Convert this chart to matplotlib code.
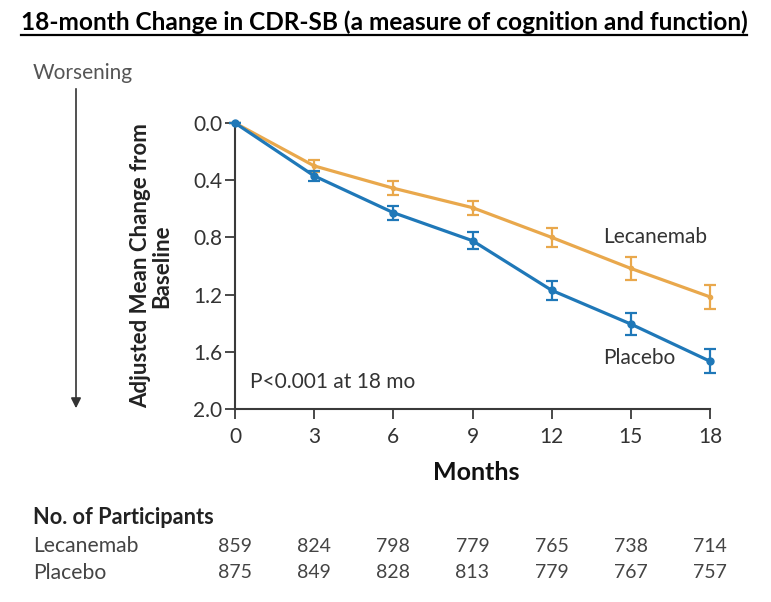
import matplotlib
matplotlib.use("Agg")
import matplotlib.pyplot as plt
from matplotlib.lines import Line2D
import matplotlib.transforms as mtransforms

plt.rcParams['font.family'] = ['Lato', 'DejaVu Sans']

months = [0, 3, 6, 9, 12, 15, 18]
lecanemab = [0.0, 0.30, 0.456, 0.592, 0.80, 1.017, 1.216]
lecanemab_err = [0.0, 0.044, 0.05, 0.05, 0.065, 0.08, 0.085]
placebo = [0.0, 0.37, 0.627, 0.823, 1.17, 1.406, 1.666]
placebo_err = [0.0, 0.033, 0.05, 0.058, 0.066, 0.08, 0.085]
yticks = [0.0, 0.4, 0.8, 1.2, 1.6, 2.0]
n_lecanemab = [859, 824, 798, 779, 765, 738, 714]
n_placebo = [875, 849, 828, 813, 779, 767, 757]

ORANGE = '#E9A84C'
BLUE = '#1F78B8'
AXC = '#3a3a3a'

W, H = 771, 602
fig = plt.figure(figsize=(W / 100, H / 100), dpi=100)

def fx(px):
    return px / W

def fy(py):
    return 1 - py / H

ax = fig.add_axes([fx(235), fy(409), fx(710) - fx(235), fy(123) - fy(409)])
ax.set_xlim(0, 18)
ax.set_ylim(2.0, 0.0)

ax.errorbar(months, lecanemab, yerr=lecanemab_err, color=ORANGE, lw=2.3,
            marker='o', ms=3, capsize=4, elinewidth=1.6, capthick=1.6, clip_on=False, zorder=3)
ax.errorbar(months, placebo, yerr=placebo_err, color=BLUE, lw=2.3,
            marker='o', ms=5, capsize=4, elinewidth=1.6, capthick=1.6, clip_on=False, zorder=4)

for s in ['top', 'right']:
    ax.spines[s].set_visible(False)
for s in ['left', 'bottom']:
    ax.spines[s].set_color(AXC)
    ax.spines[s].set_linewidth(1.5)

ax.set_xticks(months)
ax.set_yticks(yticks)
ax.set_yticklabels([f"{v:.1f}" for v in yticks])
ax.tick_params(axis='both', colors=AXC, labelcolor='#333333', labelsize=15,
               length=7, width=1.3, direction='out')
ax.tick_params(axis='y', pad=2)
ax.tick_params(axis='x', pad=6)

ax.text(13.95, 0.8, 'Lecanemab', color='#333333', fontsize=15, va='center', ha='left')
ax.text(13.95, 1.64, 'Placebo', color='#333333', fontsize=15, va='center', ha='left')
ax.text(0.57, 1.81, 'P<0.001 at 18 mo', color='#333333', fontsize=15, va='center', ha='left')

ax.set_ylabel('Adjusted Mean Change from\nBaseline', fontsize=16, fontweight='bold',
              color='#222222', labelpad=15, linespacing=1.0)

fig.text(fx(476), fy(473), 'Months', fontsize=18, fontweight='bold', ha='center', va='center', color='#111111')

# Worsening arrow
fig.text(fx(33), fy(73), 'Worsening', fontsize=15, color='#555555', ha='left', va='center')
fig.add_artist(matplotlib.patches.FancyArrowPatch((fx(76), fy(86)), (fx(76), fy(411)),
               transform=fig.transFigure, arrowstyle='-|>', mutation_scale=15,
               color='#333333', lw=1.2))

# participants table
fig.text(fx(33), fy(518), 'No. of Participants', fontsize=15.7, fontweight='bold', ha='left', va='center', color='#222222')
fig.text(fx(33), fy(546), 'Lecanemab', fontsize=15.2, ha='left', va='center', color='#444444')
fig.text(fx(33), fy(573), 'Placebo', fontsize=15.2, ha='left', va='center', color='#444444')
trans = mtransforms.blended_transform_factory(ax.transData, fig.transFigure)
for m, a, b in zip(months, n_lecanemab, n_placebo):
    fig.text(m, fy(546), str(a), transform=trans, fontsize=14, ha='center', va='center', color='#444444')
    fig.text(m, fy(573), str(b), transform=trans, fontsize=14, ha='center', va='center', color='#444444')

# Title with underline
title = fig.text(fx(384), fy(22), '18-month Change in CDR-SB (a measure of cognition and function)',
                 fontsize=17.6, fontweight='bold', ha='center', va='center', color='#000000')
fig.canvas.draw()
bb = title.get_window_extent(renderer=fig.canvas.get_renderer())
uy = (bb.y0 - 1) / H
fig.add_artist(Line2D([bb.x0 / W, bb.x1 / W], [uy, uy], transform=fig.transFigure,
                      color='black', lw=1.6))

fig.savefig('out.png', dpi=100)
